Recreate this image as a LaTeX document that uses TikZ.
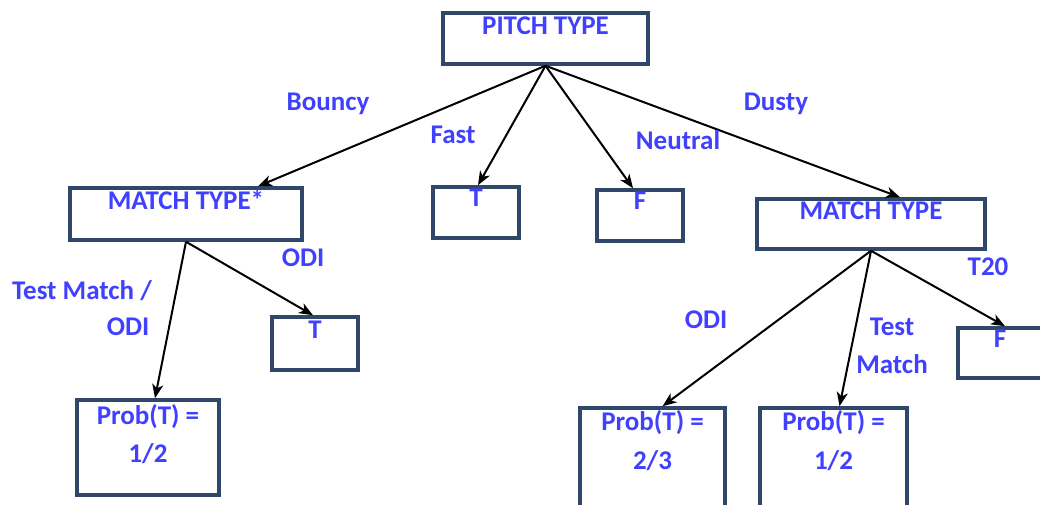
\documentclass[tikz,border=0pt]{standalone}
\usepackage{fontspec}
\setmainfont{Carlito}
\usetikzlibrary{arrows.meta,calc}
\definecolor{txtblue}{RGB}{64,64,255}
\definecolor{boxcol}{RGB}{47,72,105}
\begin{document}
\begin{tikzpicture}[x=1pt,y=-1pt,
  box/.style={draw=boxcol,line width=3.5pt,fill=white,rectangle,inner sep=0pt},
  txt/.style={text=txtblue,font=\fontsize{27}{32}\selectfont\bfseries,inner sep=0pt,anchor=center},
  arr/.style={draw=black,line width=2pt,-{Stealth[length=14pt,width=11pt,inset=4pt]}}]
\useasboundingbox (0,0) rectangle (1040,505);
% boxes
\node[box,minimum width=205pt,minimum height=51pt] (pitch) at (545.5,38.5) {};
\node[box,minimum width=232pt,minimum height=52pt] (mt1) at (186,214) {};
\node[box,minimum width=86pt,minimum height=51pt] (t1) at (476,212.5) {};
\node[box,minimum width=86pt,minimum height=51pt] (f1) at (640,215.5) {};
\node[box,minimum width=228pt,minimum height=50pt] (mt2) at (871,224) {};
\node[box,minimum width=86pt,minimum height=53pt] (t2) at (315,343.5) {};
\node[box,minimum width=142pt,minimum height=95pt] (p1) at (148,447.5) {};
\node[box,minimum width=145pt,minimum height=112pt] (p2) at (652.5,464) {};
\node[box,minimum width=147pt,minimum height=112pt] (p3) at (833.5,464) {};
\node[box,minimum width=84pt,minimum height=50pt] (f2) at (1000,353) {};
% box texts
\node[txt] (pitchT) at ([yshift=-14pt]pitch.north) {PITCH TYPE};
\node[txt] (mt1T) at ([yshift=-14pt]mt1.north) {MATCH TYPE*};
\node[txt] (t1T) at ([yshift=-12pt]t1.north) {T};
\node[txt] (f1T) at ([yshift=-12pt]f1.north) {F};
\node[txt] (mt2T) at ([yshift=-13pt]mt2.north) {MATCH TYPE};
\node[txt] (t2T) at ([yshift=-14pt]t2.north) {T};
\node[txt] (p1a) at ([yshift=-18pt]p1.north) {Prob(T) =};
\node[txt] (p1b) at ([yshift=-55pt]p1.north) {1/2};
\node[txt] (p2a) at ([yshift=-16pt]p2.north) {Prob(T) =};
\node[txt] (p2b) at ([yshift=-54pt]p2.north) {2/3};
\node[txt] (p3a) at ([yshift=-16pt]p3.north) {Prob(T) =};
\node[txt] (p3b) at ([yshift=-54pt]p3.north) {1/2};
\node[txt] (f2T) at ([yshift=-12pt]f2.north) {F};
% connectors
\draw[arr] (pitch.south) -- ([xshift=72pt]mt1.north);
\draw[arr] (pitch.south) -- ([xshift=2pt]t1.north);
\draw[arr] (pitch.south) -- ([xshift=-7pt]f1.north);
\draw[arr] (pitch.south) -- ([xshift=29pt]mt2.north);
\draw[arr] (mt1.south) -- ([xshift=7pt]p1.north);
\draw[arr] (mt1.south) -- ([xshift=-2pt]t2.north);
\draw[arr] (mt2.south) -- ([xshift=10pt]p2.north);
\draw[arr] (mt2.south) -- ([xshift=6pt]p3.north);
\draw[arr] (mt2.south) -- ([xshift=5pt]f2.north);
% edge labels
\node[txt] (lBouncy) at (328,104) {Bouncy};
\node[txt] (lFast) at (453,135) {Fast};
\node[txt] (lNeutral) at (678,140) {Neutral};
\node[txt] (lDusty) at (776,104) {Dusty};
\node[txt] (lODI1) at (303,258) {ODI};
\node[txt] (lTM1) at (82,291) {Test Match /};
\node[txt] (lTM2) at (128,327) {ODI};
\node[txt] (lODI2) at (706,320) {ODI};
\node[txt] (lTest) at (892,327) {Test};
\node[txt] (lMatch) at (892,364) {Match};
\node[txt] (lT20) at (988,267) {T20};
\end{tikzpicture}
\end{document}
